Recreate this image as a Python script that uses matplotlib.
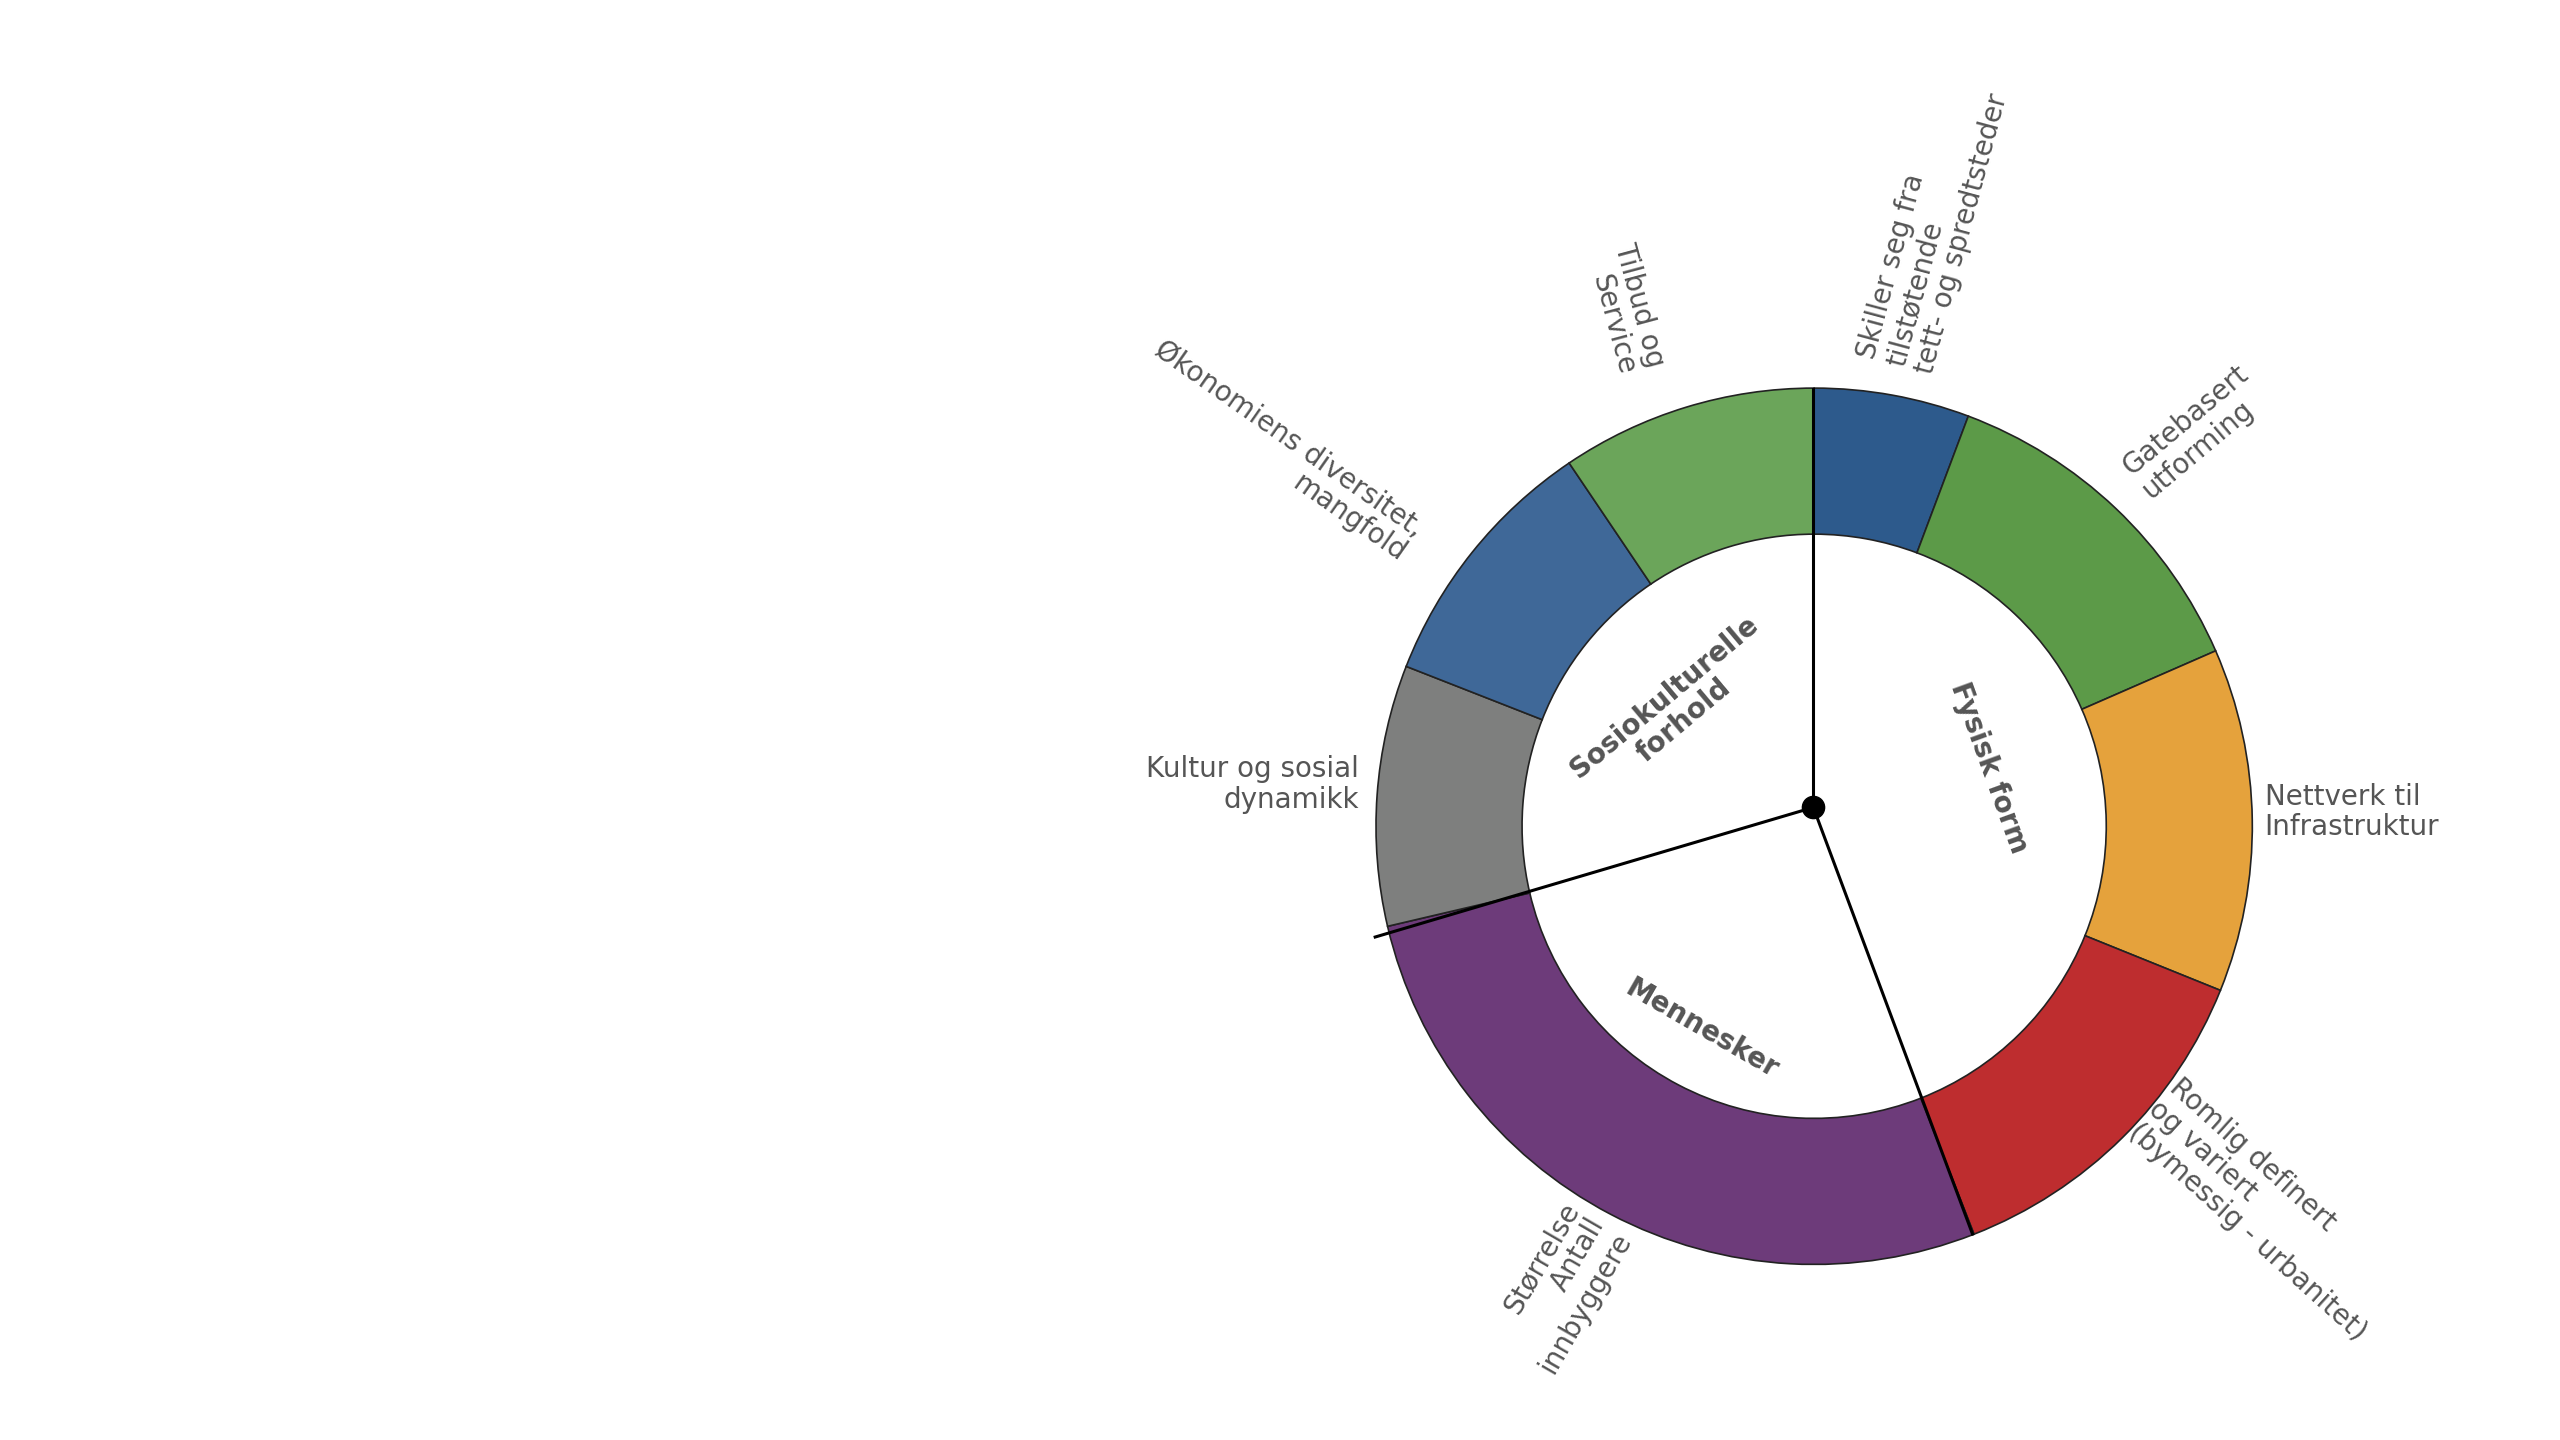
import matplotlib.pyplot as plt

# outer ring segments, clockwise from top (values ~ degrees)
labels = ["Skiller seg fra\ntilstøtende\ntett- og spredtsteder", "Gatebasert\nutforming",
          "Nettverk til\nInfrastruktur", "Romlig definert\nog variert\n(bymessig - urbanitet)",
          "Størrelse\nAntall\ninnbyggere", "Kultur og sosial\ndynamikk",
          "Økonomiens diversitet,\nmangfold", "Tilbud og\nService"]
values = [20.6, 45.8, 45.6, 46.6, 98.2, 34.6, 34.6, 34.0]
colors = ["#2D5A8C", "#5C9A48", "#E5A23C", "#BE2D2F", "#6D3B7A", "#7E7F7E", "#3F6898", "#6BA55A"]

groups = ["Fysisk form", "Mennesker", "Sosiokulturelle\nforhold"]
group_values = [157.7, 98.2, 104.1]

H = 877.5
fig = plt.figure(figsize=(25.6, 14.4), dpi=100)
ax = fig.add_axes([0, 0, 1, 1])
ax.set_xlim(0, 1560)
ax.set_ylim(0, H)
ax.set_aspect("equal")
ax.axis("off")

cx, cy = 1105.5, H - 503.5
ax.pie(values, colors=colors, startangle=90, counterclock=False, radius=267,
       center=(cx, cy), frame=True,
       wedgeprops=dict(width=89, edgecolor="#222222", linewidth=1.2))
ax.set_xlim(0, 1560)
ax.set_ylim(0, H)
ax.axis("off")

# spokes from the dot
dx, dy = 1105, H - 492
for ex, ey in [(1105, 237), (1202, 752), (838, 571)]:
    ax.plot([dx, ex], [dy, H - ey], color="black", lw=2.2)
ax.plot(dx, dy, "o", color="black", ms=16)

gray = "#555555"
pos = [(1178, 138, 75, "left"), (1338, 263, 40, "left"), (1380, 495, 0, "left"),
       (1382, 737, -42, "left"), (950, 785, 60, "right"), (828, 478, 0, "right"),
       (780, 275, -35, "right"), (990, 188, -75, "right")]
for lab, (x, y, r, ma) in zip(labels, pos):
    ha = "center"
    if r == 0:
        ha = ma
    ax.text(x, H - y, lab, rotation=r, ha=ha, va="center", ma=ma,
            fontsize=20, color=gray, linespacing=1.1)

gpos = [(1212, 468, -70), (1037, 627, -30), (1020, 432, 40)]
for g, (x, y, r) in zip(groups, gpos):
    ax.text(x, H - y, g, rotation=r, ha="center", va="center",
            fontsize=20, color=gray, fontweight="bold", linespacing=1.1)

fig.savefig("out.png", dpi=100)
